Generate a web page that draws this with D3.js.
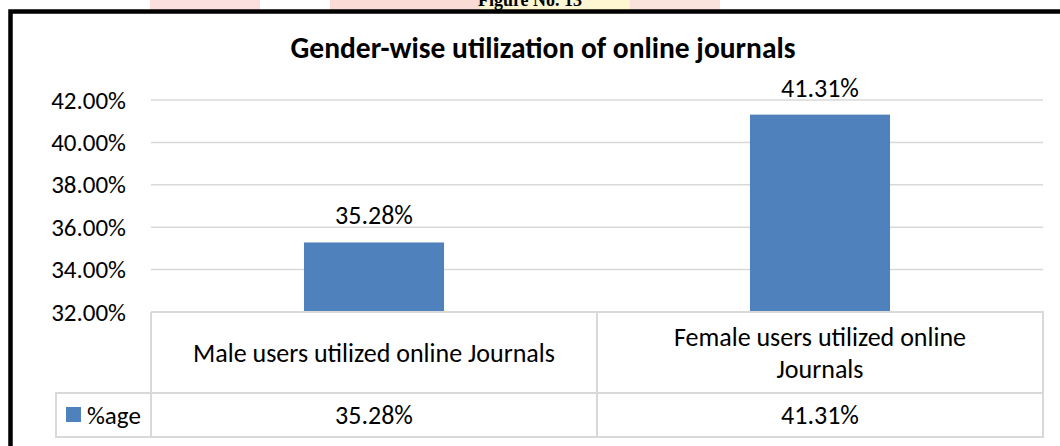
<!DOCTYPE html>
<html>
<head>
<meta charset="utf-8">
<script src="https://cdn.jsdelivr.net/npm/d3@7"></script>
<style>
  body { margin: 0; background: #fff; }
  svg { display: block; }
  text { font-family: Carlito, Calibri, Lato, "Open Sans", sans-serif; fill: #000; }
</style>
</head>
<body>
<svg width="1060" height="446"></svg>
<script>
// data
var categories = ["Male users utilized online Journals", "Female users utilized online Journals"];
var categoryLines = [["Male users utilized online Journals"], ["Female users utilized online", "Journals"]];
var seriesName = "%age";
var values = [35.28, 41.31];
var yTicks = [32, 34, 36, 38, 40, 42];

var svg = d3.select("svg"),
    width = +svg.attr("width"),
    height = +svg.attr("height");

var plot = {left: 151, right: 1043, top: 100, bottom: 312},
    fmt = function(v) { return v.toFixed(2) + "%"; },
    barColor = "#4f81bd",
    gridColor = "#d9d9d9",
    fs = "25px";

// faint watermark bits above the frame
var wm = svg.append("g").attr("opacity", 0.35);
wm.append("rect").attr("x", 150).attr("y", 0).attr("width", 110).attr("height", 10).attr("fill", "#f4a0a0");
wm.append("rect").attr("x", 330).attr("y", 0).attr("width", 150).attr("height", 10).attr("fill", "#f29a8a");
wm.append("rect").attr("x", 480).attr("y", 0).attr("width", 150).attr("height", 10).attr("fill", "#fbe67a");
wm.append("rect").attr("x", 630).attr("y", 0).attr("width", 90).attr("height", 10).attr("fill", "#f4b0a0");
svg.append("text")
    .attr("x", 530).attr("y", 6)
    .attr("text-anchor", "middle")
    .style("font-family", "'Liberation Serif', serif")
    .style("font-weight", "bold")
    .style("font-size", "18px")
    .text("Figure No. 13");

// outer frame
svg.append("rect")
    .attr("x", 10.5).attr("y", 11.5)
    .attr("width", 1100).attr("height", 500)
    .attr("fill", "#fff")
    .attr("stroke", "#000")
    .attr("stroke-width", 4.5);

// scales
var x = d3.scaleBand()
    .domain(categories)
    .range([plot.left, plot.right])
    .padding(0);

var y = d3.scaleLinear()
    .domain([32, 42])
    .range([plot.bottom, plot.top]);

// title
svg.append("text")
    .attr("x", 543).attr("y", 58)
    .attr("text-anchor", "middle")
    .style("font-weight", "bold")
    .style("font-size", "29.5px")
    .text("Gender-wise utilization of online journals");

// gridlines
svg.append("g").selectAll("line")
    .data(yTicks.slice(1))
    .enter().append("line")
    .attr("x1", plot.left).attr("x2", plot.right)
    .attr("y1", function(d) { return y(d); })
    .attr("y2", function(d) { return y(d); })
    .attr("stroke", gridColor)
    .attr("stroke-width", 1.5);

// y axis labels
var yAxis = svg.append("g")
    .attr("transform", "translate(" + plot.left + ",0)")
    .call(d3.axisLeft(y).tickValues(yTicks).tickFormat(fmt).tickSize(0).tickPadding(25));
yAxis.select(".domain").remove();
yAxis.selectAll("text")
    .style("font-family", "Carlito, Calibri, Lato, sans-serif")
    .style("font-size", fs)
    .attr("fill", "#000");

// bars
var barW = x.bandwidth() * 0.314;
svg.append("g").selectAll("rect")
    .data(values)
    .enter().append("rect")
    .attr("x", function(d, i) { return x(categories[i]) + (x.bandwidth() - barW) / 2; })
    .attr("y", function(d) { return y(d); })
    .attr("width", barW)
    .attr("height", function(d) { return y(32) - y(d); })
    .attr("fill", barColor);

// data labels
svg.append("g").selectAll("text")
    .data(values)
    .enter().append("text")
    .attr("x", function(d, i) { return x(categories[i]) + x.bandwidth() / 2; })
    .attr("y", function(d) { return y(d) - 18; })
    .attr("text-anchor", "middle")
    .style("font-size", "26px")
    .text(fmt);

// data table
var tbl = {top: plot.bottom, mid: 393, bottom: 437, legendLeft: 56},
    tline = svg.append("g").attr("stroke", gridColor).attr("stroke-width", 2).attr("fill", "none");

tline.append("path").attr("d",
    "M" + plot.left + "," + tbl.top + "H" + plot.right + "V" + tbl.bottom + "H" + tbl.legendLeft +
    "V" + tbl.mid + "H" + plot.right);
tline.append("line").attr("x1", plot.left).attr("x2", plot.left).attr("y1", tbl.top).attr("y2", tbl.bottom);
tline.append("line")
    .attr("x1", x(categories[1])).attr("x2", x(categories[1]))
    .attr("y1", tbl.top).attr("y2", tbl.bottom);

// category labels
categoryLines.forEach(function(lines, i) {
    var cx = x(categories[i]) + x.bandwidth() / 2,
        cy = (tbl.top + tbl.mid) / 2,
        lh = 32;
    lines.forEach(function(s, j) {
        svg.append("text")
            .attr("x", cx)
            .attr("y", cy + (j - (lines.length - 1) / 2) * lh)
            .attr("dy", "0.35em")
            .attr("text-anchor", "middle")
            .style("font-size", "26px")
            .text(s);
    });
});

// value row
svg.append("g").selectAll("text")
    .data(values)
    .enter().append("text")
    .attr("x", function(d, i) { return x(categories[i]) + x.bandwidth() / 2; })
    .attr("y", (tbl.mid + tbl.bottom) / 2)
    .attr("dy", "0.35em")
    .attr("text-anchor", "middle")
    .style("font-size", "26px")
    .text(fmt);

// legend key in table
svg.append("rect")
    .attr("x", 66).attr("y", 407)
    .attr("width", 15).attr("height", 15)
    .attr("fill", barColor);
svg.append("text")
    .attr("x", 87).attr("y", (tbl.mid + tbl.bottom) / 2)
    .attr("dy", "0.35em")
    .style("font-size", fs)
    .text(seriesName);
</script>
</body>
</html>
